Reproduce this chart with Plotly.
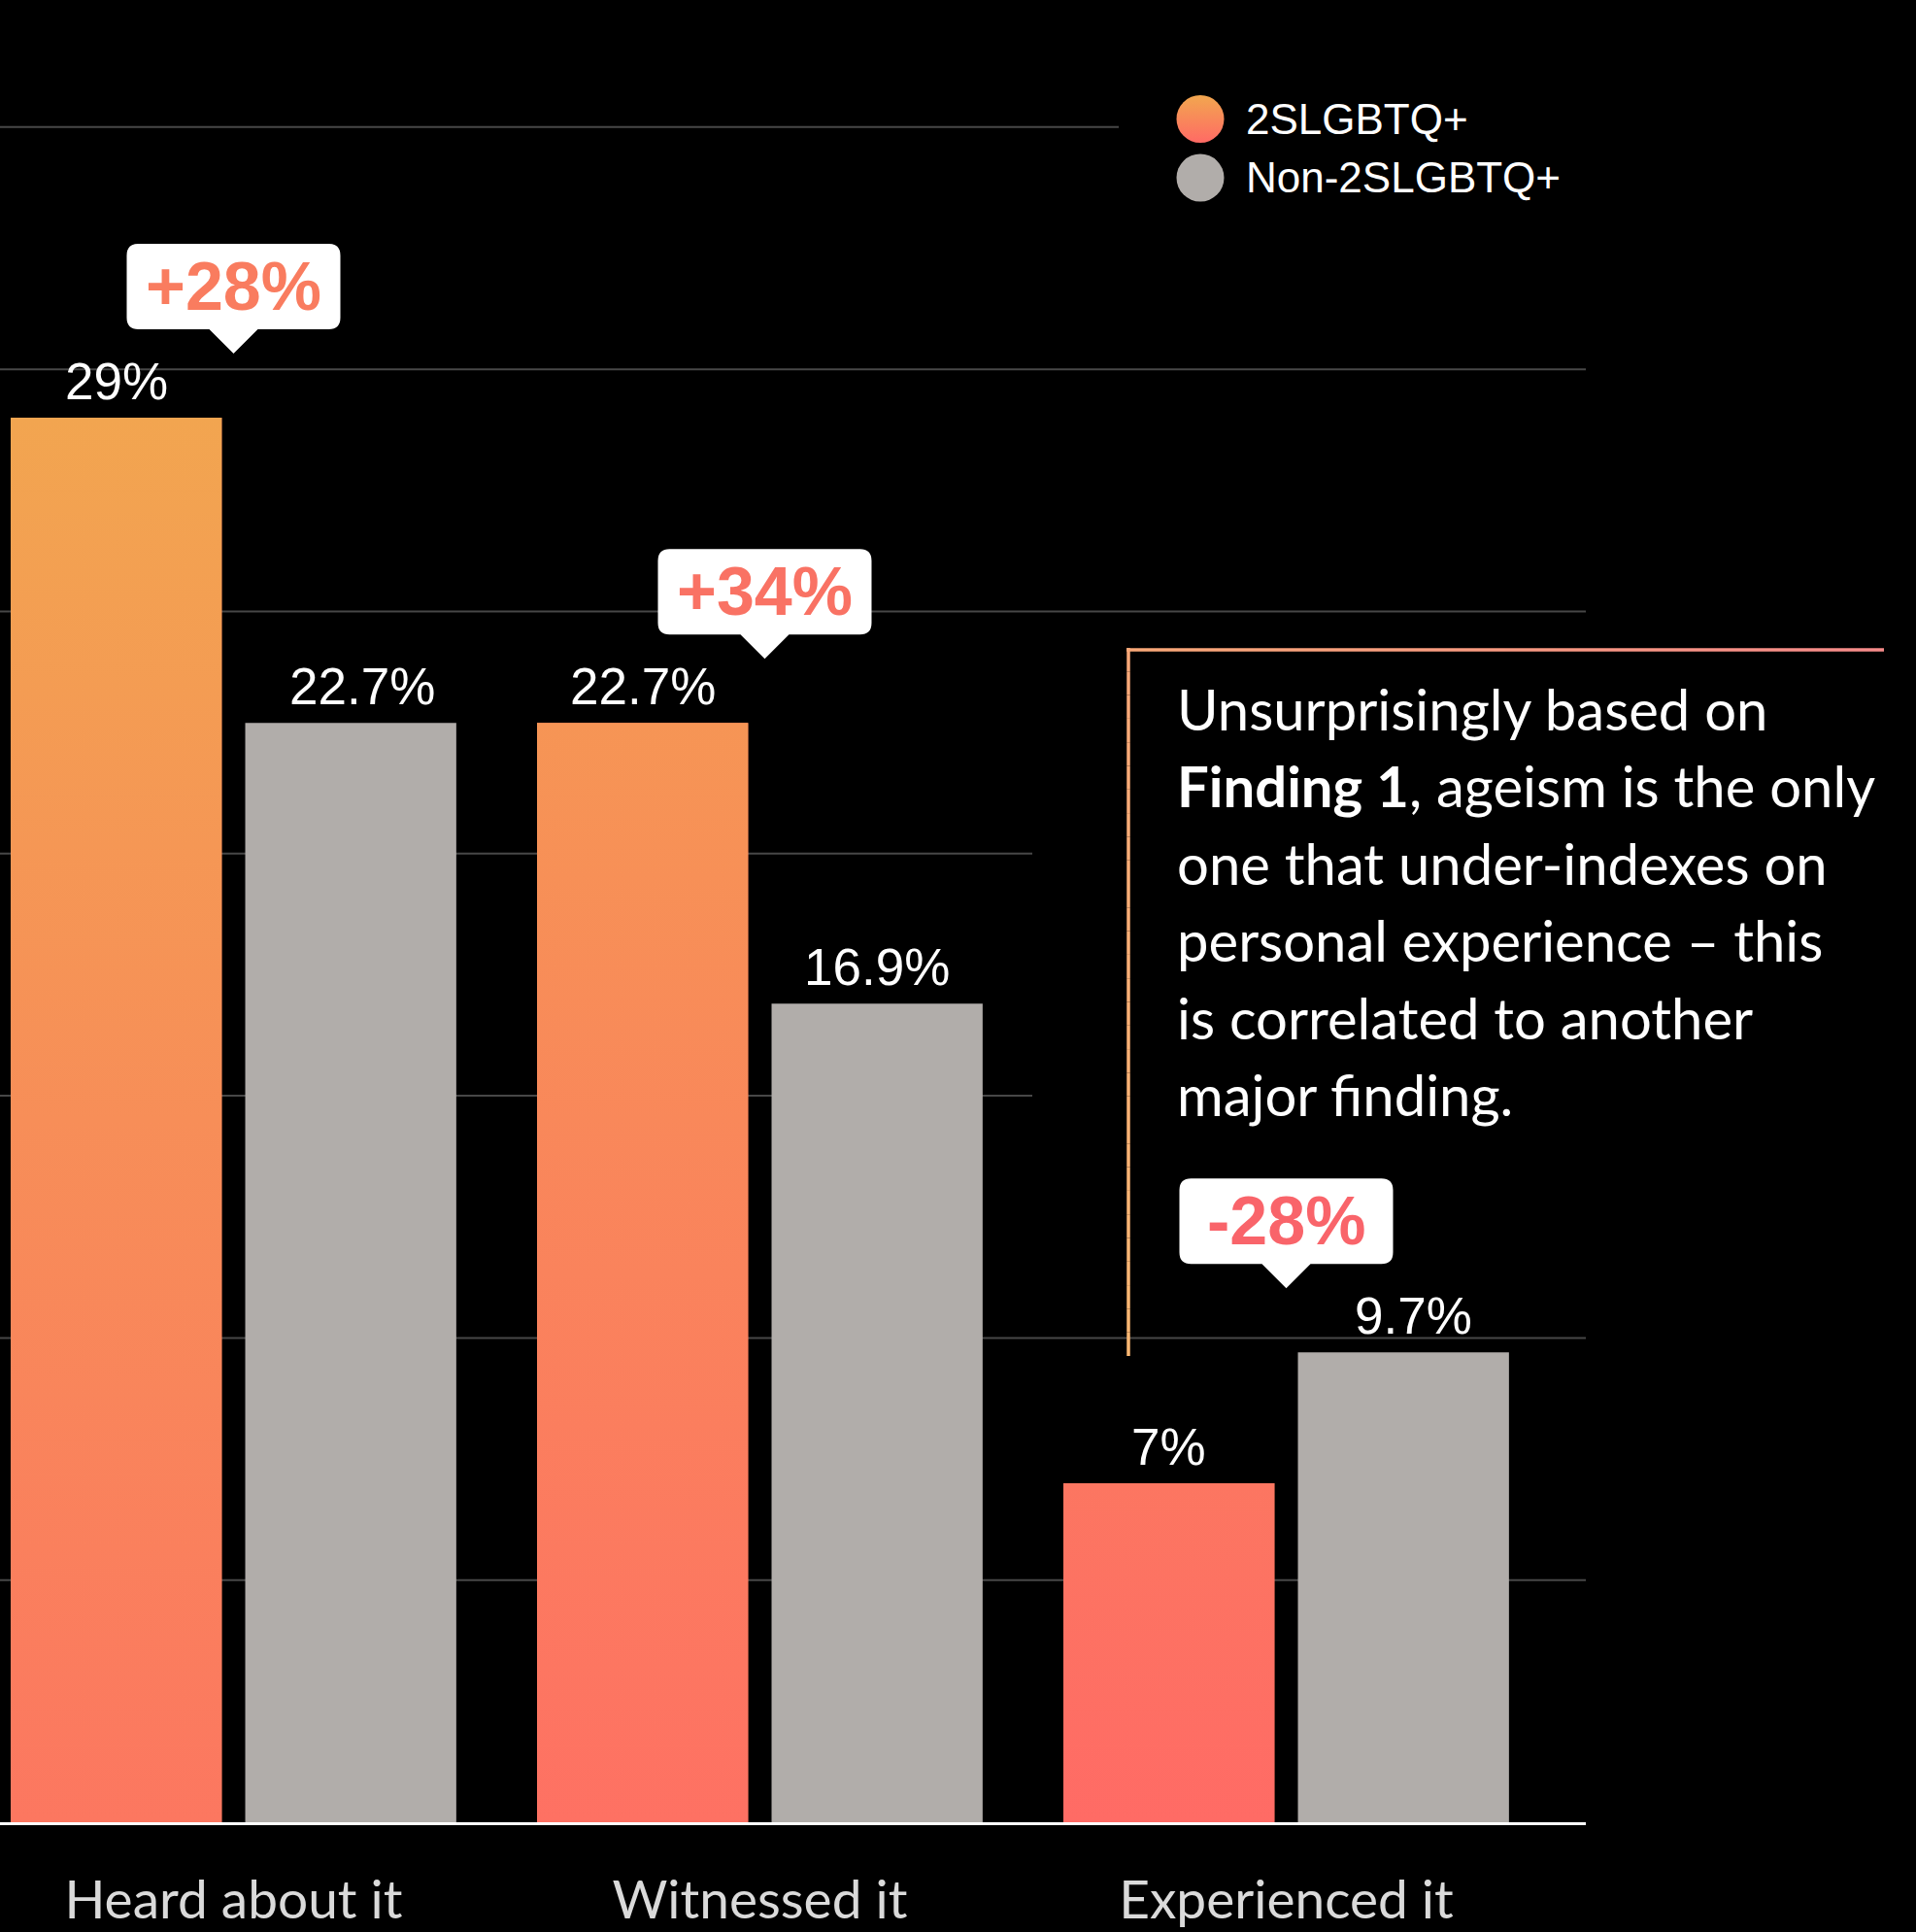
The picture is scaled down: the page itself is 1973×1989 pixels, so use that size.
import plotly.graph_objects as go

# ---- data -------------------------------------------------------------
categories = ["Heard about it", "Witnessed it", "Experienced it"]
series_names = ["2SLGBTQ+", "Non-2SLGBTQ+"]
lgbtq_values = [29, 22.7, 7]
non_lgbtq_values = [22.7, 16.9, 9.7]
gridline_values = [5, 10, 15, 20, 25, 30, 35]
note_lines = [
    "Unsurprisingly based on",
    "<b>Finding 1</b>, ageism is the only",
    "one that under-indexes on",
    "personal experience – this",
    "is correlated to another",
    "major finding.",
]

# ---- geometry / style -------------------------------------------------
W, H = 1973, 1989
M_L, M_R, M_T, M_B = 0, 340, 81, 113
PLOT_W = W - M_L - M_R
PLOT_H = H - M_T - M_B
Y_MAX = 36
X_RANGE = [-0.4437, 2.5692]
BAR_W = 0.401
OFFSETS = (-0.4234, 0.0222)

ORANGE = "#F2A74F"
CORAL = "#FF6A65"
GREY = "#B1ADAA"
GRID = "#474747"
BUBBLE_TEXT = ["#F97C5F", "#F97264", "#F9646A"]
BUBBLE_NUDGE_PX = [0, 5, 0]
LABEL_NUDGE_PX = [[0, 0, 0], [12, 0, 10]]
VALUE_FONT = "Liberation Sans, Arial, Helvetica, sans-serif"
BODY_FONT = "Lato, Open Sans, sans-serif"

# gridlines that stop short to leave room for the legend and the note
GRID_END_PX = {35: 1152, 20: 1063, 15: 1063}


def hex_rgb(c):
    c = c.lstrip("#")
    return tuple(int(c[i:i + 2], 16) for i in (0, 2, 4))


def mix(c1, c2, t):
    t = max(0.0, min(1.0, t))
    a, b = hex_rgb(c1), hex_rgb(c2)
    return "#%02X%02X%02X" % tuple(round(a[k] + (b[k] - a[k]) * t) for k in range(3))


def grad_pos(i, y):
    # diagonal blend: orange at the top-left, coral at the bottom-right
    return 0.03 + 0.76 * (1 - y / 29) + 0.1 * i


def px_x(p):
    return (p - M_L) / PLOT_W


def px_y(p):
    return (H - M_B - p) / PLOT_H


fig = go.Figure()
xs = list(range(len(categories)))

# ---- bars ---------------------------------------------------------------
fig.add_trace(go.Bar(
    x=xs, y=lgbtq_values, name=series_names[0], width=BAR_W, offset=OFFSETS[0],
    marker=dict(color=mix(ORANGE, CORAL, 0.7), line=dict(width=0)),
    showlegend=False, hoverinfo="skip",
))
fig.add_trace(go.Bar(
    x=xs, y=non_lgbtq_values, name=series_names[1], width=BAR_W, offset=OFFSETS[1],
    marker=dict(color=GREY, line=dict(width=0)),
    showlegend=False, hoverinfo="skip",
))

# gradient skin over the 2SLGBTQ+ bars
for i, v in enumerate(lgbtq_values):
    x0 = i + OFFSETS[0]
    x1 = x0 + BAR_W
    fig.add_trace(go.Scatter(
        x=[x0, x1, x1, x0, x0], y=[0, 0, v, v, 0],
        mode="none", fill="toself",
        fillgradient=dict(
            type="vertical", start=0, stop=v,
            colorscale=[[0, mix(ORANGE, CORAL, grad_pos(i, 0))],
                        [1, mix(ORANGE, CORAL, grad_pos(i, v))]],
        ),
        showlegend=False, hoverinfo="skip",
    ))

# ---- legend (drawn on an overlay axis spanning the plot area) -----------
legend_y_px = [122.5, 183]
fig.add_trace(go.Scatter(
    x=[px_x(1236)], y=[px_y(legend_y_px[0])], xaxis="x2", yaxis="y2",
    mode="markers", showlegend=False, hoverinfo="skip",
    marker=dict(size=49, color=ORANGE, line=dict(width=0),
                gradient=dict(type="vertical", color=CORAL)),
))
fig.add_trace(go.Scatter(
    x=[px_x(1236)], y=[px_y(legend_y_px[1])], xaxis="x2", yaxis="y2",
    mode="markers", showlegend=False, hoverinfo="skip",
    marker=dict(size=49, color=GREY, line=dict(width=0)),
))

annotations = []
shapes = []

for name, yp in zip(series_names, legend_y_px):
    annotations.append(dict(
        xref="paper", yref="paper", x=px_x(1281), y=px_y(yp),
        xanchor="left", yanchor="middle", text=name, showarrow=False,
        font=dict(family=VALUE_FONT, size=44, color="white"),
    ))

# ---- gridlines ----------------------------------------------------------
for g in gridline_values:
    shapes.append(dict(
        type="line", xref="paper", yref="y", x0=0, x1=px_x(GRID_END_PX.get(g, M_L + PLOT_W)),
        y0=g, y1=g, line=dict(color=GRID, width=2), layer="below",
    ))

# ---- value labels -------------------------------------------------------
for k, vals in enumerate([lgbtq_values, non_lgbtq_values]):
    for i, v in enumerate(vals):
        annotations.append(dict(
            xref="x", yref="y", x=i + OFFSETS[k] + BAR_W / 2, y=v,
            xanchor="center", yanchor="bottom", yshift=6, xshift=LABEL_NUDGE_PX[k][i],
            text=f"{v:g}%", showarrow=False,
            font=dict(family=VALUE_FONT, size=53, color="white"),
        ))

# ---- difference call-outs -----------------------------------------------
GAP = 66
for i, (a, b) in enumerate(zip(lgbtq_values, non_lgbtq_values)):
    top = max(a, b)
    diff = round((a / b - 1) * 100)
    g = GAP
    d = BUBBLE_NUDGE_PX[i]
    path = (f"M {d} {g} L {d + 25} {g + 25} L {d + 98} {g + 25} Q {d + 110} {g + 25} {d + 110} {g + 37} "
            f"L {d + 110} {g + 101} Q {d + 110} {g + 113} {d + 98} {g + 113} L {d - 98} {g + 113} "
            f"Q {d - 110} {g + 113} {d - 110} {g + 101} L {d - 110} {g + 37} "
            f"Q {d - 110} {g + 25} {d - 98} {g + 25} L {d - 25} {g + 25} Z")
    shapes.append(dict(
        type="path", xref="x", yref="y", xsizemode="pixel", ysizemode="pixel",
        xanchor=i, yanchor=top, path=path,
        fillcolor="white", line=dict(width=0), layer="above",
    ))
    annotations.append(dict(
        xref="x", yref="y", x=i, y=top, yshift=g + 25 + 44, xshift=d,
        xanchor="center", yanchor="middle", text=f"<b>{diff:+d}%</b>", showarrow=False,
        font=dict(family=VALUE_FONT, size=70, color=BUBBLE_TEXT[i]),
    ))

# ---- note frame (gradient lines built from short segments) ---------------
N_SEG = 30
hx0, hx1, hy = 1160, 1940, 669
for s in range(N_SEG):
    t0, t1 = s / N_SEG, (s + 1) / N_SEG
    shapes.append(dict(
        type="line", xref="paper", yref="paper",
        x0=px_x(hx0 + (hx1 - hx0) * t0), x1=px_x(hx0 + (hx1 - hx0) * t1),
        y0=px_y(hy), y1=px_y(hy),
        line=dict(color=mix("#F9A878", "#F68B8A", (t0 + t1) / 2), width=3.5),
    ))
vx, vy0, vy1 = 1162, 667, 1396
for s in range(N_SEG):
    t0, t1 = s / N_SEG, (s + 1) / N_SEG
    shapes.append(dict(
        type="line", xref="paper", yref="paper",
        x0=px_x(vx), x1=px_x(vx),
        y0=px_y(vy0 + (vy1 - vy0) * t0), y1=px_y(vy0 + (vy1 - vy0) * t1),
        line=dict(color=mix("#F9A878", "#FDB873", (t0 + t1) / 2), width=3.5),
    ))

# ---- note text ----------------------------------------------------------
first_baseline, line_step = 752, 79.4
for n, line in enumerate(note_lines):
    annotations.append(dict(
        xref="paper", yref="paper", x=px_x(1210), y=px_y(first_baseline + n * line_step),
        xanchor="left", yanchor="bottom", yshift=-14, text=line, showarrow=False,
        font=dict(family=BODY_FONT, size=58, color="white"),
    ))

fig.update_layout(
    width=W, height=H,
    margin=dict(l=M_L, r=M_R, t=M_T, b=M_B, pad=0, autoexpand=False),
    paper_bgcolor="black", plot_bgcolor="black",
    barmode="overlay",
    showlegend=False,
    xaxis=dict(
        range=X_RANGE, tickvals=xs, ticktext=categories,
        showgrid=False, zeroline=False, showline=True, linecolor="white", linewidth=3,
        ticks="", ticklabelstandoff=30, automargin=False,
        tickfont=dict(family=BODY_FONT, size=55, color="#DADADA"),
        fixedrange=True,
    ),
    yaxis=dict(range=[0, Y_MAX], visible=False, showgrid=False, zeroline=False, fixedrange=True),
    xaxis2=dict(range=[0, 1], overlaying="x", anchor="y2", visible=False, fixedrange=True),
    yaxis2=dict(range=[0, 1], overlaying="y", anchor="x2", visible=False, fixedrange=True),
    shapes=shapes,
    annotations=annotations,
)

fig.write_html("out.html")
